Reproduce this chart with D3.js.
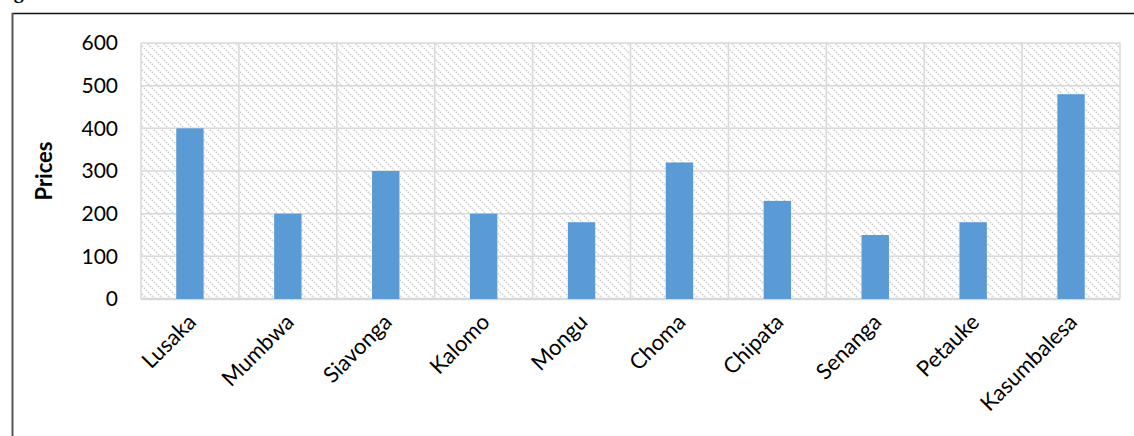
<!DOCTYPE html>
<html>
<head>
<meta charset="utf-8">
<script src="https://cdn.jsdelivr.net/npm/d3@7"></script>
<style>
  body { margin: 0; background: #fff; }
  svg { display: block; }
</style>
</head>
<body>
<svg id="chart"></svg>
<script>
// data
var cities = ["Lusaka", "Mumbwa", "Siavonga", "Kalomo", "Mongu", "Choma", "Chipata", "Senanga", "Petauke", "Kasumbalesa"];
var prices = [400, 200, 300, 200, 180, 320, 230, 150, 180, 480];
var yTicks = [0, 100, 200, 300, 400, 500, 600];

var width = 1134;
var height = 436;
var plotLeft = 141, plotRight = 1120, plotTop = 43, plotBottom = 299;

var data = cities.map((c, i) => ({ city: c, price: prices[i] }));

var svg = d3.select("#chart")
  .attr("width", width)
  .attr("height", height);

// hatch pattern for plot background
var defs = svg.append("defs");
var pat = defs.append("pattern")
  .attr("id", "hatch")
  .attr("patternUnits", "userSpaceOnUse")
  .attr("width", 8)
  .attr("height", 8);
pat.append("rect").attr("width", 8).attr("height", 8).attr("fill", "#fff");
pat.append("path")
  .attr("d", "M-2,-2 L10,10 M-2,6 L2,10 M6,-2 L10,2")
  .attr("stroke", "#cfcfcf")
  .attr("stroke-width", 1.8)
  .attr("stroke-dasharray", "1.4,1.4");

// caption cut off at the top
svg.append("text")
  .attr("x", -4)
  .attr("y", -2)
  .attr("font-family", "Liberation Serif")
  .attr("font-weight", "bold")
  .attr("font-size", 20)
  .text("Figure");

// frame
svg.append("line")
  .attr("x1", 12).attr("x2", width)
  .attr("y1", 13.5).attr("y2", 13.5)
  .attr("stroke", "#111").attr("stroke-width", 1.5);
svg.append("line")
  .attr("x1", 12.5).attr("x2", 12.5)
  .attr("y1", 13).attr("y2", height)
  .attr("stroke", "#555").attr("stroke-width", 2);

// scales
var xScale = d3.scaleBand()
  .domain(cities)
  .range([plotLeft, plotRight]);

var yScale = d3.scaleLinear()
  .domain([0, 600])
  .range([plotBottom, plotTop]);

// plot background
svg.append("rect")
  .attr("x", plotLeft).attr("y", plotTop)
  .attr("width", plotRight - plotLeft).attr("height", plotBottom - plotTop)
  .attr("fill", "url(#hatch)");

// gridlines
svg.append("g")
  .selectAll("line")
  .data(yTicks)
  .enter()
    .append("line")
    .attr("x1", plotLeft).attr("x2", plotRight)
    .attr("y1", d => yScale(d)).attr("y2", d => yScale(d))
    .attr("stroke", "#d9d9d9")
    .attr("stroke-width", d => d === 0 ? 2.5 : 1.5);

var edges = cities.map(c => xScale(c)).concat([plotRight]);
svg.append("g")
  .selectAll("line")
  .data(edges)
  .enter()
    .append("line")
    .attr("x1", d => d).attr("x2", d => d)
    .attr("y1", plotTop).attr("y2", plotBottom)
    .attr("stroke", "#d9d9d9")
    .attr("stroke-width", 1.5);

// bars
var bw = xScale.bandwidth() * 0.28;
svg.append("g")
  .selectAll("rect")
  .data(data)
  .enter()
    .append("rect")
    .attr("x", d => xScale(d.city) + (xScale.bandwidth() - bw) / 2)
    .attr("y", d => yScale(d.price))
    .attr("width", bw)
    .attr("height", d => yScale(0) - yScale(d.price))
    .attr("fill", "#5b9bd5");

// y axis
var yAxis = svg.append("g")
  .attr("transform", "translate(" + plotLeft + ",0)")
  .call(d3.axisLeft(yScale).tickValues(yTicks).tickSize(0).tickPadding(23));
yAxis.select(".domain").remove();
yAxis.selectAll("text")
  .attr("font-family", "Lato")
  .attr("font-size", 21)
  .attr("fill", "#000");

// x axis
var xAxis = svg.append("g")
  .attr("transform", "translate(0," + plotBottom + ")")
  .call(d3.axisBottom(xScale).tickSize(0));
xAxis.select(".domain").remove();
xAxis.selectAll("text")
  .attr("font-family", "Lato")
  .attr("font-size", 22)
  .attr("fill", "#000")
  .attr("y", 0)
  .attr("dy", "0.35em")
  .attr("text-anchor", "end")
  .attr("transform", "translate(2,19) rotate(-45)");

// y title
svg.append("text")
  .attr("transform", "translate(52," + ((plotTop + plotBottom) / 2) + ") rotate(-90)")
  .attr("text-anchor", "middle")
  .attr("font-family", "Lato")
  .attr("font-weight", "bold")
  .attr("font-size", 22)
  .text("Prices");
</script>
</body>
</html>
